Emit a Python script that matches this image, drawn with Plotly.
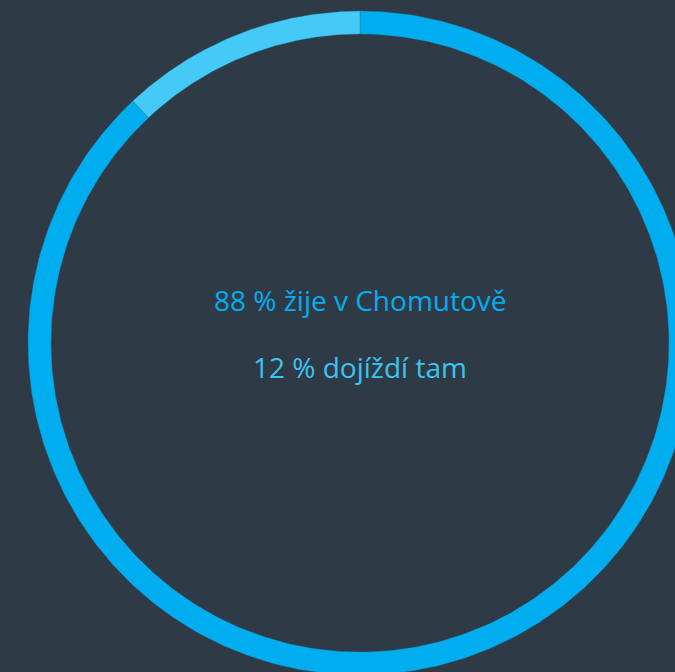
import numpy as np
import plotly.graph_objects as go

# Data
labels = ["žije v Chomutově", "dojíždí tam"]
values = [88, 12]
colors = ["#00AEEF", "#45C9F6"]
text_colors = ["#00AEEF", "#3CC4F2"]

W, H = 675, 672
BG = "#2E3A45"
cx, cy = 360, H - 343
r_out, r_in = 332, 309

fig = go.Figure()
total = sum(values)
start = 0.0
for lab, v, col in zip(labels, values, colors):
    end = start + v / total * 2 * np.pi
    t = np.linspace(start, end, 400)
    xo = cx + r_out * np.sin(t)
    yo = cy + r_out * np.cos(t)
    xi = cx + r_in * np.sin(t[::-1])
    yi = cy + r_in * np.cos(t[::-1])
    xs = np.concatenate([xo, xi, xo[:1]])
    ys = np.concatenate([yo, yi, yo[:1]])
    fig.add_trace(go.Scatter(x=xs, y=ys, fill="toself", fillcolor=col,
                             mode="lines", line=dict(width=0.6, color="rgba(30,120,160,0.6)"),
                             name=lab, hoverinfo="name", showlegend=False))
    start = end

texts = [f"{values[0]} % {labels[0]}", f"{values[1]} % {labels[1]}"]
text_y = [H - 300, H - 367]
for tx, ty, tc in zip(texts, text_y, text_colors):
    fig.add_annotation(x=cx, y=ty, text=tx, showarrow=False,
                       font=dict(family="Open Sans, Noto Sans, sans-serif", size=28,
                                 weight=500, color=tc),
                       xanchor="center", yanchor="middle")

fig.update_layout(
    width=W, height=H, margin=dict(l=0, r=0, t=0, b=0),
    paper_bgcolor=BG, plot_bgcolor=BG,
    xaxis=dict(range=[0, W], visible=False, fixedrange=True),
    yaxis=dict(range=[0, H], visible=False, fixedrange=True),
)
fig.write_html(
    "out.html",
    config={"displayModeBar": False},
    post_script="document.body.style.margin='0';document.body.style.background='#2E3A45';document.body.style.overflow='hidden';",
)
